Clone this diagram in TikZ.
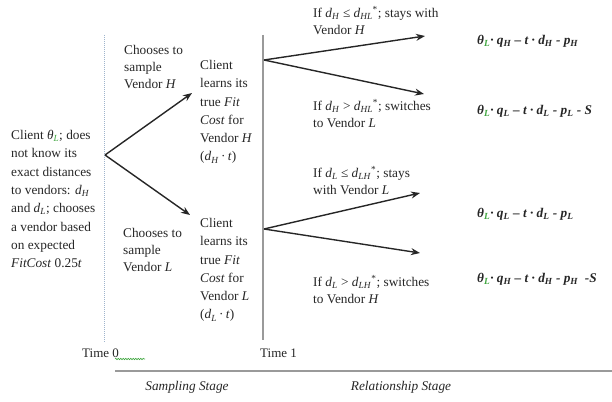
\documentclass[tikz,border=0pt]{standalone}
\usepackage{fontspec}
\setmainfont{Liberation Serif}
\usetikzlibrary{arrows.meta,decorations.pathmorphing}
\definecolor{txt}{HTML}{262626}
\definecolor{spell}{HTML}{3FA63F}
\definecolor{dotline}{HTML}{9FB4CC}
\definecolor{solidline}{HTML}{9A9A9A}
\newcommand{\sbs}[1]{\textsubscript{\textit{#1}}}
\newcommand{\thL}{\textit{θ}\textsubscript{\textcolor{spell}{\textit{L}}}}
\begin{document}
\begin{tikzpicture}[x=1pt,y=-1pt,
  txtbox/.style={anchor=north west,inner sep=0pt,align=left,text=txt,font=\fontsize{13.3}{18.3}\selectfont},
  lblbox/.style={anchor=north west,inner sep=0pt,align=left,text=txt,font=\fontsize{13.3}{17}\selectfont},
  paybox/.style={anchor=north west,inner sep=0pt,align=left,text=txt,font=\fontsize{13.3}{15}\selectfont\bfseries\itshape},
  stagebox/.style={inner sep=0pt,text=txt,font=\fontsize{13.3}{16}\selectfont\itshape},
  timebox/.style={anchor=west,inner sep=0pt,text=txt,font=\fontsize{13}{16}\selectfont},
  arr/.style={-{Stealth[length=9pt,width=7pt]},line width=1.4pt,black!85}]
\useasboundingbox (0,0) rectangle (612,401);

% stage separators
\draw[dotline,densely dotted,line width=1pt] (104,35) -- (104,343);
\draw[solidline,line width=1.2pt] (263,35) -- (263,340);
\draw[solidline,line width=1.6pt] (115,371) -- (612,371);

% left text
\node[txtbox] (client) at (11,130) {Client \thL; does\\not know its\\exact distances\\to vendors: \textit{d}\sbs{H}\\and \textit{d}\sbs{L}; chooses\\a vendor based\\on expected\\\textit{FitCost} 0.25\textit{t}};

% sampling stage
\node[txtbox,font=\fontsize{13.3}{17}\selectfont] (chH) at (124,45) {Chooses to\\sample\\Vendor \textit{H}};
\node[txtbox] (lrH) at (200,60) {Client\\learns its\\true \textit{Fit}\\\textit{Cost} for\\Vendor \textit{H}\\(\textit{d}\sbs{H}\,·\,\textit{t})};
\node[txtbox,font=\fontsize{13.3}{17}\selectfont] (chL) at (123,228) {Chooses to\\sample\\Vendor \textit{L}};
\node[txtbox] (lrL) at (200,218) {Client\\learns its\\true \textit{Fit}\\\textit{Cost} for\\Vendor \textit{L}\\(\textit{d}\sbs{L}\,·\,\textit{t})};

% relationship stage labels
\node[lblbox] (sH) at (313,6) {If \textit{d}\sbs{H} ≤ \textit{d}\sbs{HL}\textsuperscript{*}; stays with\\Vendor \textit{H}};
\node[lblbox] (wH) at (313,99) {If \textit{d}\sbs{H} > \textit{d}\sbs{HL}\textsuperscript{*}; switches\\to Vendor \textit{L}};
\node[lblbox] (sL) at (313,166) {If \textit{d}\sbs{L} ≤ \textit{d}\sbs{LH}\textsuperscript{*}; stays\\with Vendor \textit{L}};
\node[lblbox] (wL) at (313,275) {If \textit{d}\sbs{L} > \textit{d}\sbs{LH}\textsuperscript{*}; switches\\to Vendor \textit{H}};

% payoffs
\node[paybox] (p1) at (477,35) {\thL· \textit{q}\sbs{H} – \textit{t} · \textit{d}\sbs{H} - \textit{p}\sbs{H}};
\node[paybox] (p2) at (477,105) {\thL· \textit{q}\sbs{L} – \textit{t} · \textit{d}\sbs{L} - \textit{p}\sbs{L} - \textit{S}};
\node[paybox] (p3) at (477,208) {\thL· \textit{q}\sbs{L} – \textit{t} · \textit{d}\sbs{L} - \textit{p}\sbs{L}};
\node[paybox] (p4) at (477,273) {\thL· \textit{q}\sbs{H} – \textit{t} · \textit{d}\sbs{H} - \textit{p}\sbs{H} \ -\textit{S}};

% arrows
\coordinate (a0) at (105,155);
\coordinate (tH) at (192,93);
\coordinate (tL) at (190,215);
\draw[arr] (a0) -- (tH);
\draw[arr] (a0) -- (tL);
\coordinate (a1) at (264,60);
\coordinate (t1) at (425,36);
\coordinate (t2) at (424,94);
\draw[arr] (a1) -- (t1);
\draw[arr] (a1) -- (t2);
\coordinate (a2) at (264,229);
\coordinate (t3) at (420,193);
\coordinate (t4) at (420,253);
\draw[arr] (a2) -- (t3);
\draw[arr] (a2) -- (t4);

% time and stage labels
\node[timebox] (t0) at (82,353) {Time 0};
\node[timebox] (t1l) at (260,353) {Time 1};
\draw[spell,line width=0.6pt,decorate,decoration={snake,amplitude=0.7pt,segment length=2.5pt}] (115,359) -- (145,359);
\node[stagebox] (samp) at (187,387) {Sampling Stage};
\node[stagebox] (rel) at (401,387) {Relationship Stage};
\end{tikzpicture}
\end{document}
